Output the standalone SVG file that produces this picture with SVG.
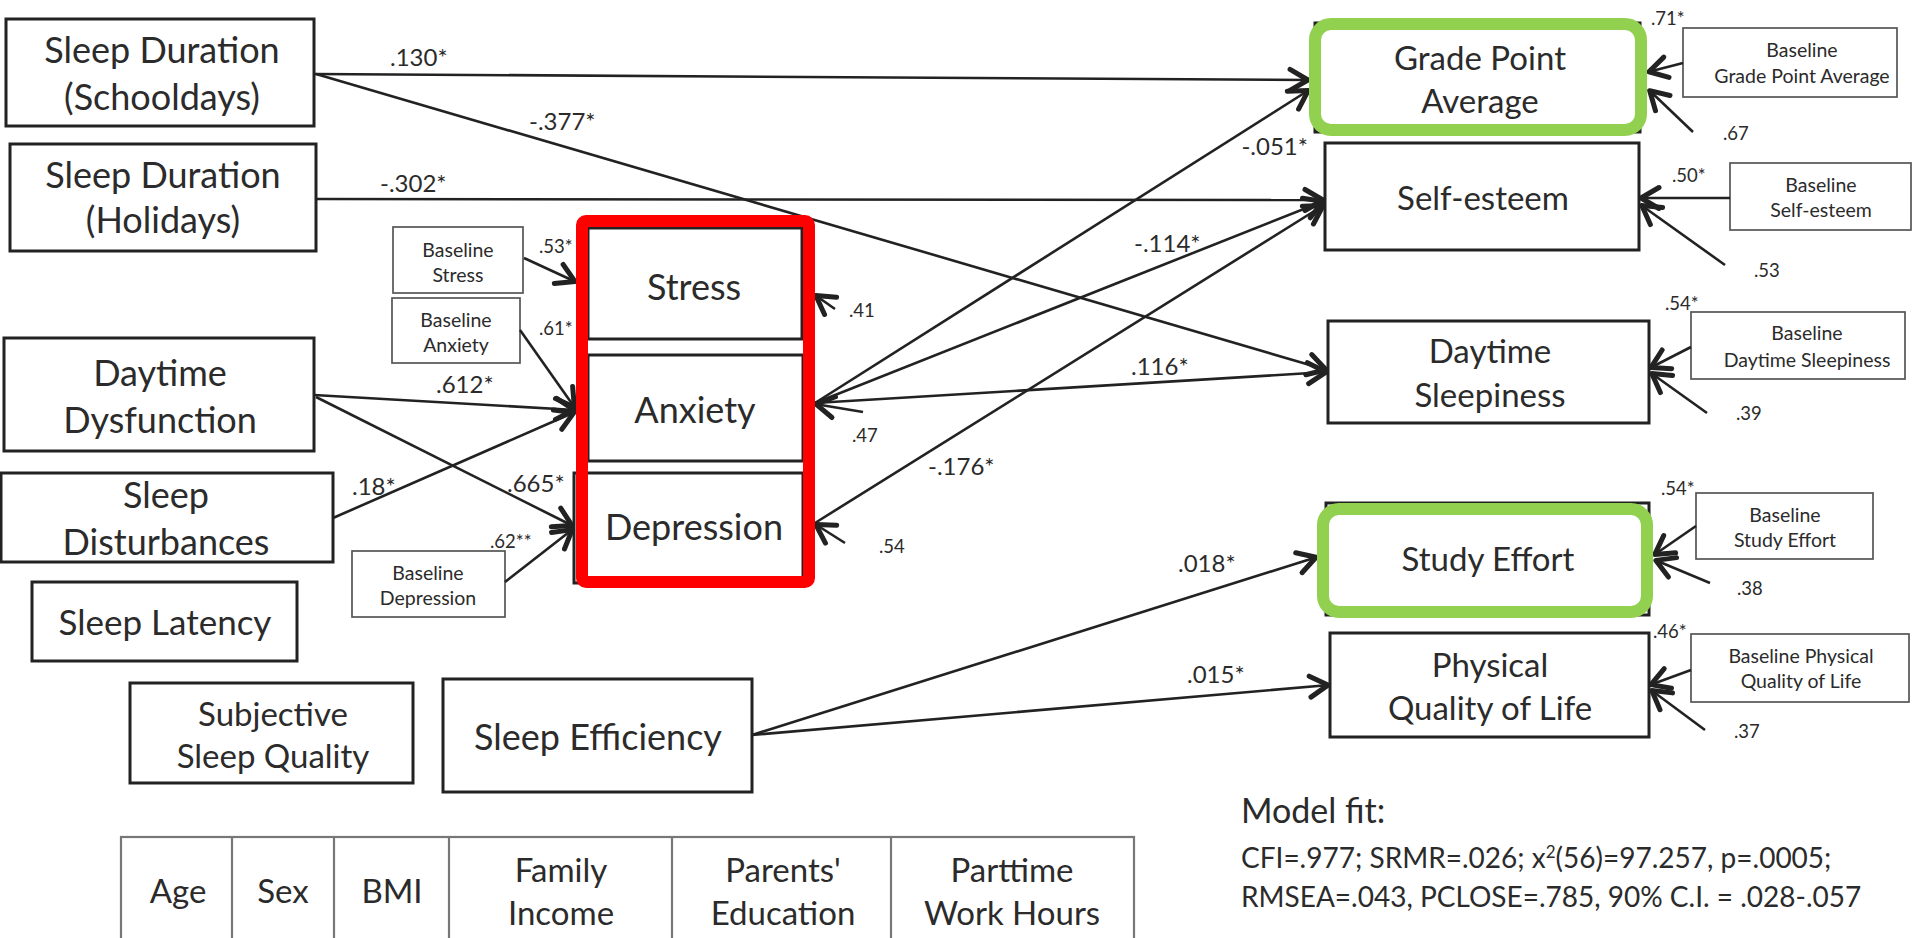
<svg xmlns="http://www.w3.org/2000/svg" width="1915" height="938" viewBox="0 0 1915 938">
<defs>
<style>
.box{fill:#fff;stroke:#222;stroke-width:3}
.bb{fill:#fff;stroke:#555;stroke-width:1.7}
.t{font-family:Lato,'Liberation Sans',sans-serif;fill:#2b2b2b;text-anchor:middle}
.big{font-size:33px}
.lg{font-size:36px}
.sm{font-size:19.5px}
.lb{font-family:Lato,'Liberation Sans',sans-serif;fill:#2b2b2b;font-size:24px}
.rs{font-family:Lato,'Liberation Sans',sans-serif;fill:#2b2b2b;font-size:18.5px}
.mf{font-family:Lato,'Liberation Sans',sans-serif;fill:#2b2b2b}
.ln{stroke:#222;stroke-width:2.6;fill:none;marker-end:url(#ah)}
.tab{fill:none;stroke:#777;stroke-width:2.2}
.red{fill:none;stroke:#ff0000;stroke-width:12}
.grn{fill:none;stroke:#92d050;stroke-width:12}
</style>
<marker id="ah" markerUnits="userSpaceOnUse" markerWidth="40" markerHeight="40" viewBox="-25 -20 30 40" refX="0" refY="0" orient="auto">
<path d="M-19,-10.5 L-1,0 L-19,10.5" fill="none" stroke="#222" stroke-width="5" stroke-linecap="round" stroke-linejoin="round"/>
</marker>
</defs>
<rect width="1915" height="938" fill="#fff"/>

<g id="sleep-duration-schooldays"><rect class="box" x="6" y="19" width="308" height="107"/><text class="t lg" x="162" y="63">Sleep Duration</text><text class="t lg" x="162" y="110">(Schooldays)</text></g>
<g id="sleep-duration-holidays"><rect class="box" x="10" y="144" width="306" height="107"/><text class="t lg" x="163" y="188">Sleep Duration</text><text class="t lg" x="163" y="233">(Holidays)</text></g>
<g id="baseline-stress"><rect class="bb" x="393" y="227" width="130" height="66"/><text class="t sm" x="458" y="257">Baseline</text><text class="t sm" x="458" y="282">Stress</text></g>
<g id="baseline-anxiety"><rect class="bb" x="392" y="298" width="128" height="65"/><text class="t sm" x="456" y="327">Baseline</text><text class="t sm" x="456" y="352">Anxiety</text></g>
<g id="daytime-dysfunction"><rect class="box" x="4" y="338" width="310" height="113"/><text class="t lg" x="160" y="386">Daytime</text><text class="t lg" x="160" y="433">Dysfunction</text></g>
<g id="sleep-disturbances"><rect class="box" x="1" y="473" width="332" height="89"/><text class="t lg" x="166" y="508">Sleep</text><text class="t lg" x="166" y="555">Disturbances</text></g>
<g id="baseline-depression"><rect class="bb" x="352" y="551" width="153" height="66"/><text class="t sm" x="428" y="580">Baseline</text><text class="t sm" x="428" y="605">Depression</text></g>
<g id="sleep-latency"><rect class="box" x="32" y="582" width="265" height="79"/><text class="t big" x="165" y="635" style="font-size:35px">Sleep Latency</text></g>
<g id="subjective-sleep-quality"><rect class="box" x="130" y="683" width="283" height="100"/><text class="t big" x="273" y="726">Subjective</text><text class="t big" x="273" y="768">Sleep Quality</text></g>
<g id="sleep-efficiency"><rect class="box" x="443" y="679" width="309" height="113"/><text class="t lg" x="598" y="750">Sleep Efficiency</text></g>

<g id="covariates">
<rect class="tab" x="121" y="837" width="1013" height="110"/>
<line class="tab" x1="232" y1="837" x2="232" y2="945"/>
<line class="tab" x1="334" y1="837" x2="334" y2="945"/>
<line class="tab" x1="449" y1="837" x2="449" y2="945"/>
<line class="tab" x1="672" y1="837" x2="672" y2="945"/>
<line class="tab" x1="891" y1="837" x2="891" y2="945"/>
<text class="t big" x="178" y="903">Age</text>
<text class="t big" x="283" y="903">Sex</text>
<text class="t big" x="392" y="903">BMI</text>
<text class="t big" x="561" y="882">Family</text><text class="t big" x="561" y="925">Income</text>
<text class="t big" x="783" y="882">Parents'</text><text class="t big" x="783" y="925">Education</text>
<text class="t big" x="1012" y="882">Parttime</text><text class="t big" x="1012" y="925">Work Hours</text>
</g>

<g id="stress"><rect class="box" x="588" y="228" width="214" height="111"/><text class="t lg" x="694" y="300">Stress</text></g>
<g id="anxiety"><rect class="box" x="588" y="355" width="215" height="106"/><text class="t lg" x="695" y="423">Anxiety</text></g>
<g id="depression"><rect class="box" x="574" y="473" width="229" height="110"/><text class="t lg" x="694" y="540">Depression</text></g>

<g id="gpa"><rect class="box" x="1315" y="23" width="325" height="109"/><text class="t big" x="1480" y="70">Grade Point</text><text class="t big" x="1480" y="113">Average</text></g>
<g id="self-esteem"><rect class="box" x="1325" y="143" width="314" height="107"/><text class="t big" x="1483" y="210">Self-esteem</text></g>
<g id="daytime-sleepiness"><rect class="box" x="1328" y="321" width="321" height="102"/><text class="t big" x="1490" y="363">Daytime</text><text class="t big" x="1490" y="407">Sleepiness</text></g>
<g id="study-effort"><rect class="box" x="1326" y="503" width="323" height="112"/><text class="t big" x="1488" y="571">Study Effort</text></g>
<g id="physical-qol"><rect class="box" x="1330" y="633" width="319" height="104"/><text class="t big" x="1490" y="677">Physical</text><text class="t big" x="1490" y="720">Quality of Life</text></g>

<g id="baseline-gpa"><rect class="bb" x="1683" y="28" width="214" height="69"/><text class="t sm" x="1802" y="57">Baseline</text><text class="t sm" x="1802" y="83">Grade Point Average</text></g>
<g id="baseline-self-esteem"><rect class="bb" x="1730" y="163" width="181" height="67"/><text class="t sm" x="1821" y="192">Baseline</text><text class="t sm" x="1821" y="217">Self-esteem</text></g>
<g id="baseline-daytime-sleepiness"><rect class="bb" x="1691" y="312" width="214" height="67"/><text class="t sm" x="1807" y="340">Baseline</text><text class="t sm" x="1807" y="367">Daytime Sleepiness</text></g>
<g id="baseline-study-effort"><rect class="bb" x="1696" y="493" width="177" height="66"/><text class="t sm" x="1785" y="522">Baseline</text><text class="t sm" x="1785" y="547">Study Effort</text></g>
<g id="baseline-physical-qol"><rect class="bb" x="1691" y="634" width="218" height="68"/><text class="t sm" x="1801" y="663">Baseline Physical</text><text class="t sm" x="1801" y="688">Quality of Life</text></g>

<g id="connectors">
<line class="ln" x1="314" y1="74" x2="1309" y2="80"/>
<line class="ln" x1="316" y1="74" x2="1327" y2="370"/>
<line class="ln" x1="316" y1="199" x2="1324" y2="200"/>
<line class="ln" x1="815" y1="403" x2="1309" y2="90"/>
<line class="ln" x1="815" y1="403" x2="1324" y2="201"/>
<line class="ln" x1="815" y1="403" x2="1327" y2="372"/>
<line class="ln" x1="815" y1="523" x2="1324" y2="205"/>
<line class="ln" x1="752" y1="735" x2="1317" y2="557"/>
<line class="ln" x1="752" y1="735" x2="1329" y2="685"/>
<line class="ln" x1="524" y1="258" x2="576" y2="282"/>
<line class="ln" x1="520" y1="330" x2="575" y2="408"/>
<line class="ln" x1="314" y1="395" x2="575" y2="410"/>
<line class="ln" x1="333" y1="518" x2="575" y2="412"/>
<line class="ln" x1="316" y1="397" x2="573" y2="526"/>
<line class="ln" x1="505" y1="582" x2="573" y2="529"/>
<line class="ln" x1="835" y1="309" x2="815" y2="295"/>
<line class="ln" x1="863" y1="412" x2="815" y2="404"/>
<line class="ln" x1="845" y1="543" x2="815" y2="524"/>
<line class="ln" x1="1683" y1="63" x2="1648" y2="72"/>
<line class="ln" x1="1693" y1="132" x2="1649" y2="90"/>
<line class="ln" x1="1730" y1="198" x2="1640" y2="198"/>
<line class="ln" x1="1725" y1="265" x2="1641" y2="205"/>
<line class="ln" x1="1691" y1="347" x2="1650" y2="368"/>
<line class="ln" x1="1707" y1="413" x2="1651" y2="373"/>
<line class="ln" x1="1696" y1="526" x2="1654" y2="555"/>
<line class="ln" x1="1710" y1="583" x2="1655" y2="560"/>
<line class="ln" x1="1691" y1="670" x2="1650" y2="685"/>
<line class="ln" x1="1705" y1="730" x2="1651" y2="690"/>
</g>

<g id="path-labels">
<text class="lb" x="390" y="66">.130*</text>
<text class="lb" x="529" y="130">-.377*</text>
<text class="lb" x="380" y="192">-.302*</text>
<text class="lb" x="1308" y="155" text-anchor="end">-.051*</text>
<text class="lb" x="1134" y="252">-.114*</text>
<text class="lb" x="1131" y="375">.116*</text>
<text class="lb" x="928" y="475">-.176*</text>
<text class="lb" x="1178" y="572">.018*</text>
<text class="lb" x="1187" y="683">.015*</text>
<text class="lb" x="436" y="393">.612*</text>
<text class="lb" x="352" y="495">.18*</text>
<text class="lb" x="507" y="492">.665*</text>
<text class="rs" x="539" y="253">.53*</text>
<text class="rs" x="539" y="335">.61*</text>
<text class="rs" x="490" y="548">.62**</text>
<text class="rs" x="849" y="317">.41</text>
<text class="rs" x="852" y="442">.47</text>
<text class="rs" x="879" y="553">.54</text>
<text class="rs" x="1651" y="25">.71*</text>
<text class="rs" x="1723" y="140">.67</text>
<text class="rs" x="1672" y="182">.50*</text>
<text class="rs" x="1754" y="277">.53</text>
<text class="rs" x="1665" y="310">.54*</text>
<text class="rs" x="1736" y="420">.39</text>
<text class="rs" x="1661" y="495">.54*</text>
<text class="rs" x="1737" y="595">.38</text>
<text class="rs" x="1653" y="638">.46*</text>
<text class="rs" x="1734" y="738">.37</text>
</g>

<g id="highlights">
<rect class="red" x="582" y="221" width="227" height="361" rx="4"/>
<rect class="grn" x="1315" y="24" width="326" height="106" rx="16"/>
<rect class="grn" x="1323" y="509" width="324" height="103" rx="16"/>
</g>

<g id="model-fit">
<text class="mf" x="1241" y="823" style="font-size:34px">Model fit:</text>
<text class="mf" x="1241" y="868" style="font-size:28px">CFI=.977; SRMR=.026; x<tspan dy="-10" style="font-size:17px">2</tspan><tspan dy="10">(56)=97.257, p=.0005;</tspan></text>
<text class="mf" x="1241" y="907" style="font-size:28px">RMSEA=.043, PCLOSE=.785, 90% C.I. = .028-.057</text>
</g>
</svg>
